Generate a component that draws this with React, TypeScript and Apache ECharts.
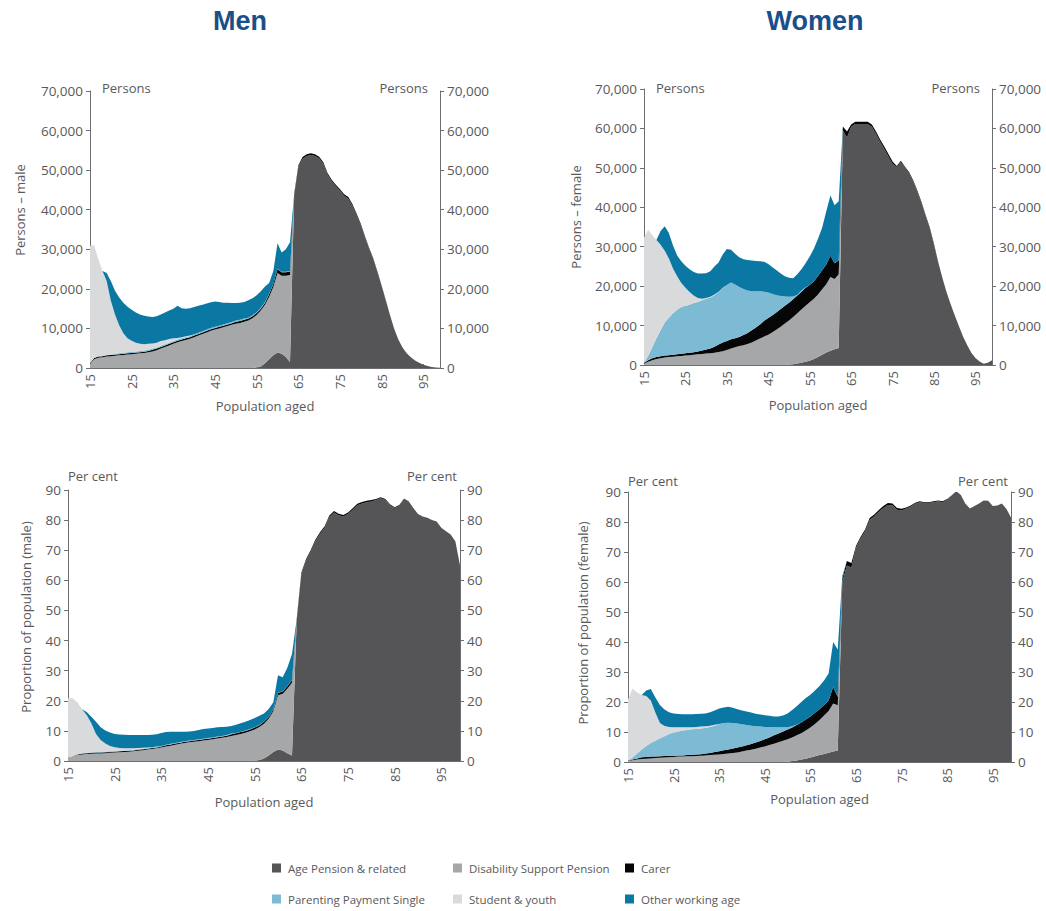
import React, { useEffect, useRef } from "react";
import * as echarts from "echarts";

// ---------- categories ----------
const AGES: string[] = [
  "15","16","17","18","19","20","21","22","23","24",
  "25","26","27","28","29","30","31","32","33","34",
  "35","36","37","38","39","40","41","42","43","44",
  "45","46","47","48","49","50","51","52","53","54",
  "55","56","57","58","59","60","61","62","63","64",
  "65","66","67","68","69","70","71","72","73","74",
  "75","76","77","78","79","80","81","82","83","84",
  "85","86","87","88","89","90","91","92","93","94",
  "95","96","97","98","99",
];
const X_TICK_LABELS = ["15", "25", "35", "45", "55", "65", "75", "85", "95"];

const SERIES_NAMES = [
  "Age Pension & related",
  "Disability Support Pension",
  "Carer",
  "Parenting Payment Single",
  "Student & youth",
  "Other working age",
];

// ---------- Men, persons ----------
const M_P_AGE = [
  0,0,0,0,0,0,0,0,0,0,
  0,0,0,0,0,0,0,0,0,0,
  0,0,0,0,0,0,0,0,0,0,
  0,0,0,0,0,0,0,0,0,0,
  100,400,1200,2200,3200,3900,3600,2800,1500,43600,
  50800,52900,53600,53850,53600,53000,51600,48900,47200,45900,
  44800,43500,42800,41000,38600,36000,33100,30100,27500,24100,
  20600,16900,13400,9900,7200,5200,3700,2700,1900,1300,
  800,480,280,150,80,
];
const M_P_DSP = [
  1000,2200,2600,2700,2900,3000,3100,3200,3300,3400,
  3500,3600,3700,3800,4000,4200,4500,4900,5300,5700,
  6100,6500,6800,7100,7400,7800,8200,8600,9000,9400,
  9700,10000,10300,10600,10900,11200,11400,11700,12000,12600,
  13300,14100,14800,15800,17300,20100,19700,20500,22000,0,
  0,0,0,0,0,0,0,0,0,0,
  0,0,0,0,0,0,0,0,0,0,
  0,0,0,0,0,0,0,0,0,0,
  0,0,0,0,0,
];
const M_P_CARER = [
  200,300,300,300,300,300,300,300,300,300,
  300,300,300,300,300,400,400,400,400,400,
  400,400,400,400,400,400,400,400,400,400,
  400,400,400,400,400,500,500,500,500,500,
  500,500,500,700,700,1000,900,900,900,400,
  400,400,400,400,400,400,400,400,400,400,
  400,400,400,400,400,400,200,200,200,200,
  200,200,0,0,0,0,0,0,0,0,
  0,0,0,0,0,
];
const M_P_PPS = [
  0,0,0,0,100,100,100,300,300,300,
  300,300,300,300,300,300,300,300,300,300,
  300,300,300,300,300,300,300,300,300,300,
  300,300,300,300,300,300,300,300,200,200,
  200,200,200,100,100,100,100,100,100,0,
  0,0,0,0,0,0,0,0,0,0,
  0,0,0,0,0,0,0,0,0,0,
  0,0,0,0,0,0,0,0,0,0,
  0,0,0,0,0,
];
const M_P_STUDENT = [
  29600,28500,24600,21500,18700,13600,10000,7000,4900,3500,
  2800,2200,1800,1600,1500,1300,1200,1200,1000,900,
  700,400,300,200,100,0,0,0,0,0,
  0,0,0,0,0,0,0,0,0,0,
  0,0,0,0,0,0,0,0,0,0,
  0,0,0,0,0,0,0,0,0,0,
  0,0,0,0,0,0,0,0,0,0,
  0,0,0,0,0,0,0,0,0,0,
  0,0,0,0,0,
];
const M_P_OTHER = [
  0,0,0,0,2000,5000,6000,7000,7700,8000,
  7800,7600,7400,7200,6900,6700,6700,6700,7000,7200,
  7500,8100,7300,7000,6900,6900,6800,6700,6600,6500,
  6400,6000,5500,5200,4800,4400,4300,4200,4400,4300,
  4300,4200,3900,2700,3200,6400,4900,5700,7300,0,
  0,0,0,0,0,0,0,0,0,0,
  0,0,0,0,0,0,0,0,0,0,
  0,0,0,0,0,0,0,0,0,0,
  0,0,0,0,0,
];

// ---------- Men, per cent ----------
const M_R_AGE = [
  0,0,0,0,0,0,0,0,0,0,
  0,0,0,0,0,0,0,0,0,0,
  0,0,0,0,0,0,0,0,0,0,
  0,0,0,0,0,0,0,0,0,0,
  0.1,0.3,0.8,1.8,3.0,3.8,3.5,2.6,1.8,46.5,
  62,66.5,69.5,73,75.5,77.5,81,82.5,81.6,81.2,
  82,83.4,84.9,85.5,85.9,86.2,86.7,87.3,86.7,85,
  84,84.7,87.2,86.3,84,82,81.2,80.8,80,79.5,
  77.5,76.3,75.2,73,65,
];
const M_R_DSP = [
  1.2,1.7,2.0,2.2,2.3,2.4,2.5,2.5,2.6,2.7,
  2.8,2.9,3.0,3.1,3.2,3.4,3.6,3.8,4.0,4.2,
  4.5,4.8,5.1,5.4,5.7,6.0,6.2,6.4,6.6,6.8,
  7.0,7.2,7.5,7.7,8.0,8.3,8.6,9.0,9.4,9.9,
  10.4,11.0,11.6,12.2,13.5,18.0,18.8,21.4,24.2,0,
  0,0,0,0,0,0,0,0,0,0,
  0,0,0,0,0,0,0,0,0,0,
  0,0,0,0,0,0,0,0,0,0,
  0,0,0,0,0,
];
const M_R_CARER = [
  0,0,0.2,0.3,0.3,0.3,0.3,0.3,0.3,0.3,
  0.3,0.3,0.3,0.3,0.3,0.3,0.3,0.3,0.3,0.3,
  0.3,0.4,0.4,0.4,0.4,0.4,0.4,0.4,0.4,0.4,
  0.4,0.4,0.4,0.4,0.4,0.6,0.6,0.6,0.6,0.6,
  0.6,0.6,0.6,0.6,0.6,0.8,0.8,0.8,0.8,0.5,
  0.5,0.5,0.5,0.5,0.5,0.5,0.5,0.5,0.5,0.5,
  0.5,0.5,0.5,0.5,0.5,0.5,0.3,0.3,0.3,0.3,
  0.3,0.3,0,0,0,0,0,0,0,0,
  0,0,0,0,0,
];
const M_R_PPS = [
  0,0,0,0,0.1,0.1,0.2,0.2,0.2,0.2,
  0.2,0.2,0.2,0.2,0.2,0.2,0.2,0.2,0.2,0.2,
  0.2,0.2,0.2,0.2,0.2,0.2,0.2,0.2,0.2,0.2,
  0.2,0.2,0.2,0.2,0.2,0.2,0.1,0.1,0.1,0.1,
  0.1,0.1,0.1,0.1,0.1,0.1,0.1,0.1,0.1,0,
  0,0,0,0,0,0,0,0,0,0,
  0,0,0,0,0,0,0,0,0,0,
  0,0,0,0,0,0,0,0,0,0,
  0,0,0,0,0,
];
const M_R_STUDENT = [
  19.6,19.1,17.3,14.7,12.6,9.7,6.0,4.0,2.7,1.8,
  1.3,0.9,0.7,0.6,0.5,0.4,0.3,0.2,0.1,0.1,
  0,0,0,0,0,0,0,0,0,0,
  0,0,0,0,0,0,0,0,0,0,
  0,0,0,0,0,0,0,0,0,0,
  0,0,0,0,0,0,0,0,0,0,
  0,0,0,0,0,0,0,0,0,0,
  0,0,0,0,0,0,0,0,0,0,
  0,0,0,0,0,
];
const M_R_OTHER = [
  0,0,0,0,1.0,2.2,4.0,4.2,4.3,4.5,
  4.4,4.5,4.5,4.4,4.4,4.3,4.2,4.1,4.1,4.1,
  4.3,4.2,4.0,3.7,3.4,3.1,3.0,3.0,3.1,3.2,
  3.2,3.2,3.1,3.0,2.8,2.5,2.7,2.8,2.9,3.0,
  3.1,3.0,2.7,2.6,2.3,5.8,4.6,6.1,8.6,0,
  0,0,0,0,0,0,0,0,0,0,
  0,0,0,0,0,0,0,0,0,0,
  0,0,0,0,0,0,0,0,0,0,
  0,0,0,0,0,
];

// ---------- Women, persons ----------
const W_P_AGE = [
  0,0,0,0,0,0,0,0,0,0,
  0,0,0,0,0,0,0,0,0,0,
  0,0,0,0,0,0,0,0,0,0,
  0,0,0,0,0,100,200,400,600,800,
  1100,1500,2000,2600,3200,3600,4000,4300,59500,57700,
  60400,61100,61100,61100,61100,60400,58600,56600,54800,52900,
  51000,50200,51500,50000,48600,46500,43900,41000,37700,34500,
  30400,26200,22200,18600,15500,12600,9900,7200,5100,3100,
  1800,900,300,600,1200,
];
const W_P_DSP = [
  300,800,1200,1500,1700,1900,2000,2100,2200,2300,
  2400,2500,2600,2700,2800,2900,3000,3100,3300,3500,
  3800,4200,4500,4800,5000,5300,5700,6200,6700,7200,
  7700,8300,9000,9700,10500,11200,12000,12700,13500,14200,
  14800,15300,15900,16600,17300,18700,17800,18700,0,0,
  0,0,0,0,0,0,0,0,0,0,
  0,0,0,0,0,0,0,0,0,0,
  0,0,0,0,0,0,0,0,0,0,
  0,0,0,0,0,
];
const W_P_CARER = [
  200,400,500,500,500,500,500,500,500,550,
  600,600,650,750,850,1000,1200,1500,1900,2200,
  2300,2300,2300,2300,2600,2800,3100,3300,3600,4000,
  4200,4300,4400,4500,4500,4500,4500,4500,4500,4600,
  4400,4400,4700,4800,5000,5400,4000,3500,1000,1500,
  600,600,600,600,600,600,600,600,600,600,
  600,300,300,300,300,300,300,300,300,300,
  300,0,0,0,0,0,0,0,0,0,
  0,0,0,0,0,
];
const W_P_PPS = [
  100,1100,2800,4800,6600,8400,9500,10500,11300,11850,
  12000,12200,12450,12550,12750,12900,12900,13100,13300,13800,
  14200,14400,13600,12700,11700,10800,9900,9200,8400,7400,
  6500,5400,4300,3300,2400,1500,700,200,300,100,
  0,0,0,0,0,0,0,0,0,0,
  0,0,0,0,0,0,0,0,0,0,
  0,0,0,0,0,0,0,0,0,0,
  0,0,0,0,0,0,0,0,0,0,
  0,0,0,0,0,
];
const W_P_STUDENT = [
  31700,32000,28500,24900,21700,18200,15000,11400,8500,6100,
  4600,3200,1900,1000,400,200,200,200,100,100,
  0,0,0,0,0,0,0,0,0,0,
  0,0,0,0,0,0,0,0,0,0,
  0,0,0,0,0,0,0,0,0,0,
  0,0,0,0,0,0,0,0,0,0,
  0,0,0,0,0,0,0,0,0,0,
  0,0,0,0,0,0,0,0,0,0,
  0,0,0,0,0,
];
const W_P_OTHER = [
  0,0,0,0,3500,6200,6500,5800,5300,5500,
  5600,5800,6000,6200,6400,6300,6500,7100,7400,8400,
  9100,8300,7800,7500,7500,7700,7800,7700,7600,7600,
  7200,6800,6300,5700,5100,4800,4600,5200,5400,6100,
  7200,8300,9400,10800,13500,15300,14700,15000,0,0,
  0,0,0,0,0,0,0,0,0,0,
  0,0,0,0,0,0,0,0,0,0,
  0,0,0,0,0,0,0,0,0,0,
  0,0,0,0,0,
];

// ---------- Women, per cent ----------
const W_R_AGE = [
  0,0,0,0,0,0,0,0,0,0,
  0,0,0,0,0,0,0,0,0,0,
  0,0,0,0,0,0,0,0,0,0,
  0,0,0,0,0,0.1,0.3,0.5,0.8,1.1,
  1.5,1.9,2.3,2.7,3.1,3.5,3.8,60,65.5,64.8,
  71.4,74.4,76.9,80.7,81.9,83.4,84.7,85.7,85.6,84.1,
  83.8,84.5,85.2,86.1,86.6,86.3,86.3,86.6,86.9,86.6,
  87.4,88.9,90.3,89.0,86.1,84.5,85.3,86.2,87.2,87.1,
  85.3,85.5,86.2,84.3,81.5,
];
const W_R_DSP = [
  0.3,0.6,0.8,1.0,1.1,1.2,1.3,1.4,1.5,1.6,
  1.7,1.8,1.8,1.9,1.9,2.0,2.1,2.2,2.3,2.4,
  2.5,2.7,2.8,3.0,3.2,3.5,3.8,4.1,4.4,4.8,
  5.2,5.7,6.1,6.6,7.1,7.5,7.9,8.4,8.8,9.4,
  10.0,10.8,11.7,12.8,13.9,16.0,15.1,0,0,0,
  0,0,0,0,0,0,0,0,0,0,
  0,0,0,0,0,0,0,0,0,0,
  0,0,0,0,0,0,0,0,0,0,
  0,0,0,0,0,
];
const W_R_CARER = [
  0.1,0.2,0.4,0.6,0.6,0.6,0.5,0.5,0.5,0.4,
  0.4,0.4,0.4,0.4,0.5,0.5,0.5,0.6,0.7,0.9,
  1.1,1.2,1.4,1.5,1.6,1.7,1.8,1.9,2.1,2.2,
  2.4,2.5,2.8,2.9,3.1,3.2,3.3,3.4,3.6,3.7,
  3.7,3.7,3.6,3.5,3.5,5.5,2.8,1.0,1.5,1.5,
  0.6,0.6,0.6,0.6,0.6,0.6,0.6,0.6,0.6,0.6,
  0.6,0.3,0.3,0.3,0.3,0.3,0.3,0.3,0.3,0.3,
  0.3,0,0,0,0,0,0,0,0,0,
  0,0,0,0,0,
];
const W_R_PPS = [
  0.1,0.7,1.6,2.6,3.6,4.5,5.3,6.0,6.6,7.3,
  7.7,8.0,8.3,8.4,8.5,8.5,8.6,8.6,8.7,8.8,
  9.0,9.1,8.9,8.5,8.0,7.4,6.7,6.1,5.4,4.8,
  4.1,3.5,2.7,2.1,1.4,0.8,0.4,0.1,0,0,
  0,0,0,0,0,0,0,0,0,0,
  0,0,0,0,0,0,0,0,0,0,
  0,0,0,0,0,0,0,0,0,0,
  0,0,0,0,0,0,0,0,0,0,
  0,0,0,0,0,
];
const W_R_STUDENT = [
  20.3,23.0,20.4,18.1,16.7,14.2,9.4,5.1,3.4,2.4,
  1.8,1.4,1.1,0.9,0.7,0.7,0.6,0.5,0.4,0.3,
  0.1,0,0,0,0,0,0,0,0,0,
  0,0,0,0,0,0,0,0,0,0,
  0,0,0,0,0,0,0,0,0,0,
  0,0,0,0,0,0,0,0,0,0,
  0,0,0,0,0,0,0,0,0,0,
  0,0,0,0,0,0,0,0,0,0,
  0,0,0,0,0,
];
const W_R_OTHER = [
  0,0,0,0,1.8,3.8,5.0,6.0,5.5,4.9,
  4.6,4.4,4.3,4.3,4.3,4.3,4.3,4.3,4.5,4.8,
  5.1,5.2,5.3,5.1,4.8,4.6,4.5,4.4,4.2,4.0,
  3.9,3.7,3.6,3.6,3.9,4.6,5.4,6.2,6.8,7.1,
  7.2,7.4,7.7,8.2,9.0,15.0,15.8,1.0,0,0,
  0,0,0,0,0,0,0,0,0,0,
  0,0,0,0,0,0,0,0,0,0,
  0,0,0,0,0,0,0,0,0,0,
  0,0,0,0,0,
];

// ---------- styling / layout ----------
const COLORS = ["#555557", "#a6a7a9", "#060606", "#7dbbd5", "#d9dadc", "#0b78a3"];
const FONT = '"Open Sans", "Noto Sans", sans-serif';
const TEXT = "#58595b";
const AXIS = "#6d6e71";

const PANELS = [
  {
    grid: { left: 90, top: 91, width: 350, height: 277 },
    max: 70000, interval: 10000, thousands: true,
    series: [M_P_AGE, M_P_DSP, M_P_CARER, M_P_PPS, M_P_STUDENT, M_P_OTHER],
    yName: "Persons – male", yNamePos: [20, 210],
    unit: "Persons", unitY: 88, nameGap: 31,
  },
  {
    grid: { left: 644, top: 89, width: 348, height: 276 },
    max: 70000, interval: 10000, thousands: true,
    series: [W_P_AGE, W_P_DSP, W_P_CARER, W_P_PPS, W_P_STUDENT, W_P_OTHER],
    yName: "Persons – female", yNamePos: [576, 217],
    unit: "Persons", unitY: 88, nameGap: 33,
  },
  {
    grid: { left: 68, top: 490, width: 392, height: 271 },
    max: 90, interval: 10, thousands: false,
    series: [M_R_AGE, M_R_DSP, M_R_CARER, M_R_PPS, M_R_STUDENT, M_R_OTHER],
    yName: "Proportion of population (male)", yNamePos: [26, 617],
    unit: "Per cent", unitY: 476, nameGap: 34,
  },
  {
    grid: { left: 628, top: 492, width: 383, height: 270 },
    max: 90, interval: 10, thousands: false,
    series: [W_R_AGE, W_R_DSP, W_R_CARER, W_R_PPS, W_R_STUDENT, W_R_OTHER],
    yName: "Proportion of population (female)", yNamePos: [583, 623],
    unit: "Per cent", unitY: 481, nameGap: 30,
  },
];

const LEGEND_X = [272, 453, 625];
const LEGEND_Y = [862, 893];

function buildOption() {
  const grid: any[] = [];
  const xAxis: any[] = [];
  const yAxis: any[] = [];
  const series: any[] = [];
  const graphic: any[] = [];

  const tickFilter = (_i: number, v: string) => X_TICK_LABELS.indexOf(v) >= 0;

  PANELS.forEach((p, i) => {
    grid.push({ ...p.grid, containLabel: false });
    xAxis.push({
      type: "category",
      gridIndex: i,
      data: AGES,
      boundaryGap: false,
      axisLine: { lineStyle: { color: AXIS, width: 1 } },
      axisTick: { inside: true, length: 4, interval: tickFilter, lineStyle: { color: AXIS } },
      axisLabel: {
        interval: tickFilter,
        rotate: 90,
        margin: 6,
        fontSize: 13,
        color: TEXT,
        fontFamily: FONT,
      },
      splitLine: { show: false },
      name: "Population aged",
      nameLocation: "middle",
      nameGap: p.nameGap,
      nameTextStyle: { fontSize: 13, color: TEXT, fontFamily: FONT },
    });
    const fmt = (v: number) => (p.thousands ? v.toLocaleString("en-US") : String(v));
    ["left", "right"].forEach((pos) => {
      yAxis.push({
        type: "value",
        gridIndex: i,
        position: pos,
        min: 0,
        max: p.max,
        interval: p.interval,
        axisLine: { show: true, lineStyle: { color: AXIS, width: 1 } },
        axisTick: { show: true, length: 4, lineStyle: { color: AXIS } },
        axisLabel: { formatter: fmt, margin: 7, fontSize: 13.5, color: TEXT, fontFamily: FONT },
        splitLine: { show: false },
      });
    });
    p.series.forEach((data, k) => {
      series.push({
        type: "line",
        name: SERIES_NAMES[k],
        xAxisIndex: i,
        yAxisIndex: i * 2,
        stack: "panel" + i,
        data,
        symbol: "none",
        showSymbol: false,
        silent: true,
        lineStyle: { width: 0, color: COLORS[k] },
        itemStyle: { color: COLORS[k] },
        areaStyle: { color: COLORS[k], opacity: 1 },
      });
    });
    const g = p.grid;
    graphic.push({
      type: "text",
      x: p.yNamePos[0],
      y: p.yNamePos[1],
      rotation: Math.PI / 2,
      style: { text: p.yName, fill: TEXT, font: `13px ${FONT}`, align: "center", verticalAlign: "middle" },
    });
    graphic.push({
      type: "text",
      x: g.left + (p.unit === "Persons" ? 12 : 0),
      y: p.unitY,
      style: { text: p.unit, fill: TEXT, font: `13px ${FONT}`, align: "left", verticalAlign: "middle" },
    });
    graphic.push({
      type: "text",
      x: g.left + g.width - (p.unit === "Persons" ? 12 : 3),
      y: p.unitY,
      style: { text: p.unit, fill: TEXT, font: `13px ${FONT}`, align: "right", verticalAlign: "middle" },
    });
  });

  graphic.push({
    type: "text", x: 240, y: 21,
    style: { text: "Men", fill: "#1b4f8a", font: 'bold 27px "Liberation Sans", Arial, sans-serif', align: "center", verticalAlign: "middle" },
  });
  graphic.push({
    type: "text", x: 815, y: 21,
    style: { text: "Women", fill: "#1b4f8a", font: 'bold 27px "Liberation Sans", Arial, sans-serif', align: "center", verticalAlign: "middle" },
  });

  const legend = SERIES_NAMES.map((n, k) => ({
    data: [n],
    left: LEGEND_X[k % 3],
    top: LEGEND_Y[Math.floor(k / 3)],
    icon: "rect",
    itemWidth: 9,
    itemHeight: 9,
    itemGap: 0,
    padding: 0,
    selectedMode: false,
    textStyle: { fontSize: 11.5, color: TEXT, fontFamily: FONT, padding: [0, 0, 0, 2] },
  }));

  return {
    animation: false,
    backgroundColor: "#ffffff",
    grid,
    xAxis,
    yAxis,
    series,
    legend,
    graphic,
  };
}

export default function App() {
  const ref = useRef<HTMLDivElement>(null);
  useEffect(() => {
    if (!ref.current) return;
    const chart = echarts.init(ref.current, undefined, { renderer: "svg" });
    chart.setOption(buildOption() as any);
    return () => chart.dispose();
  }, []);
  return (
    <div
      ref={ref}
      style={{ position: "fixed", left: 0, top: 0, width: 1046, height: 911, background: "#fff" }}
    />
  );
}
